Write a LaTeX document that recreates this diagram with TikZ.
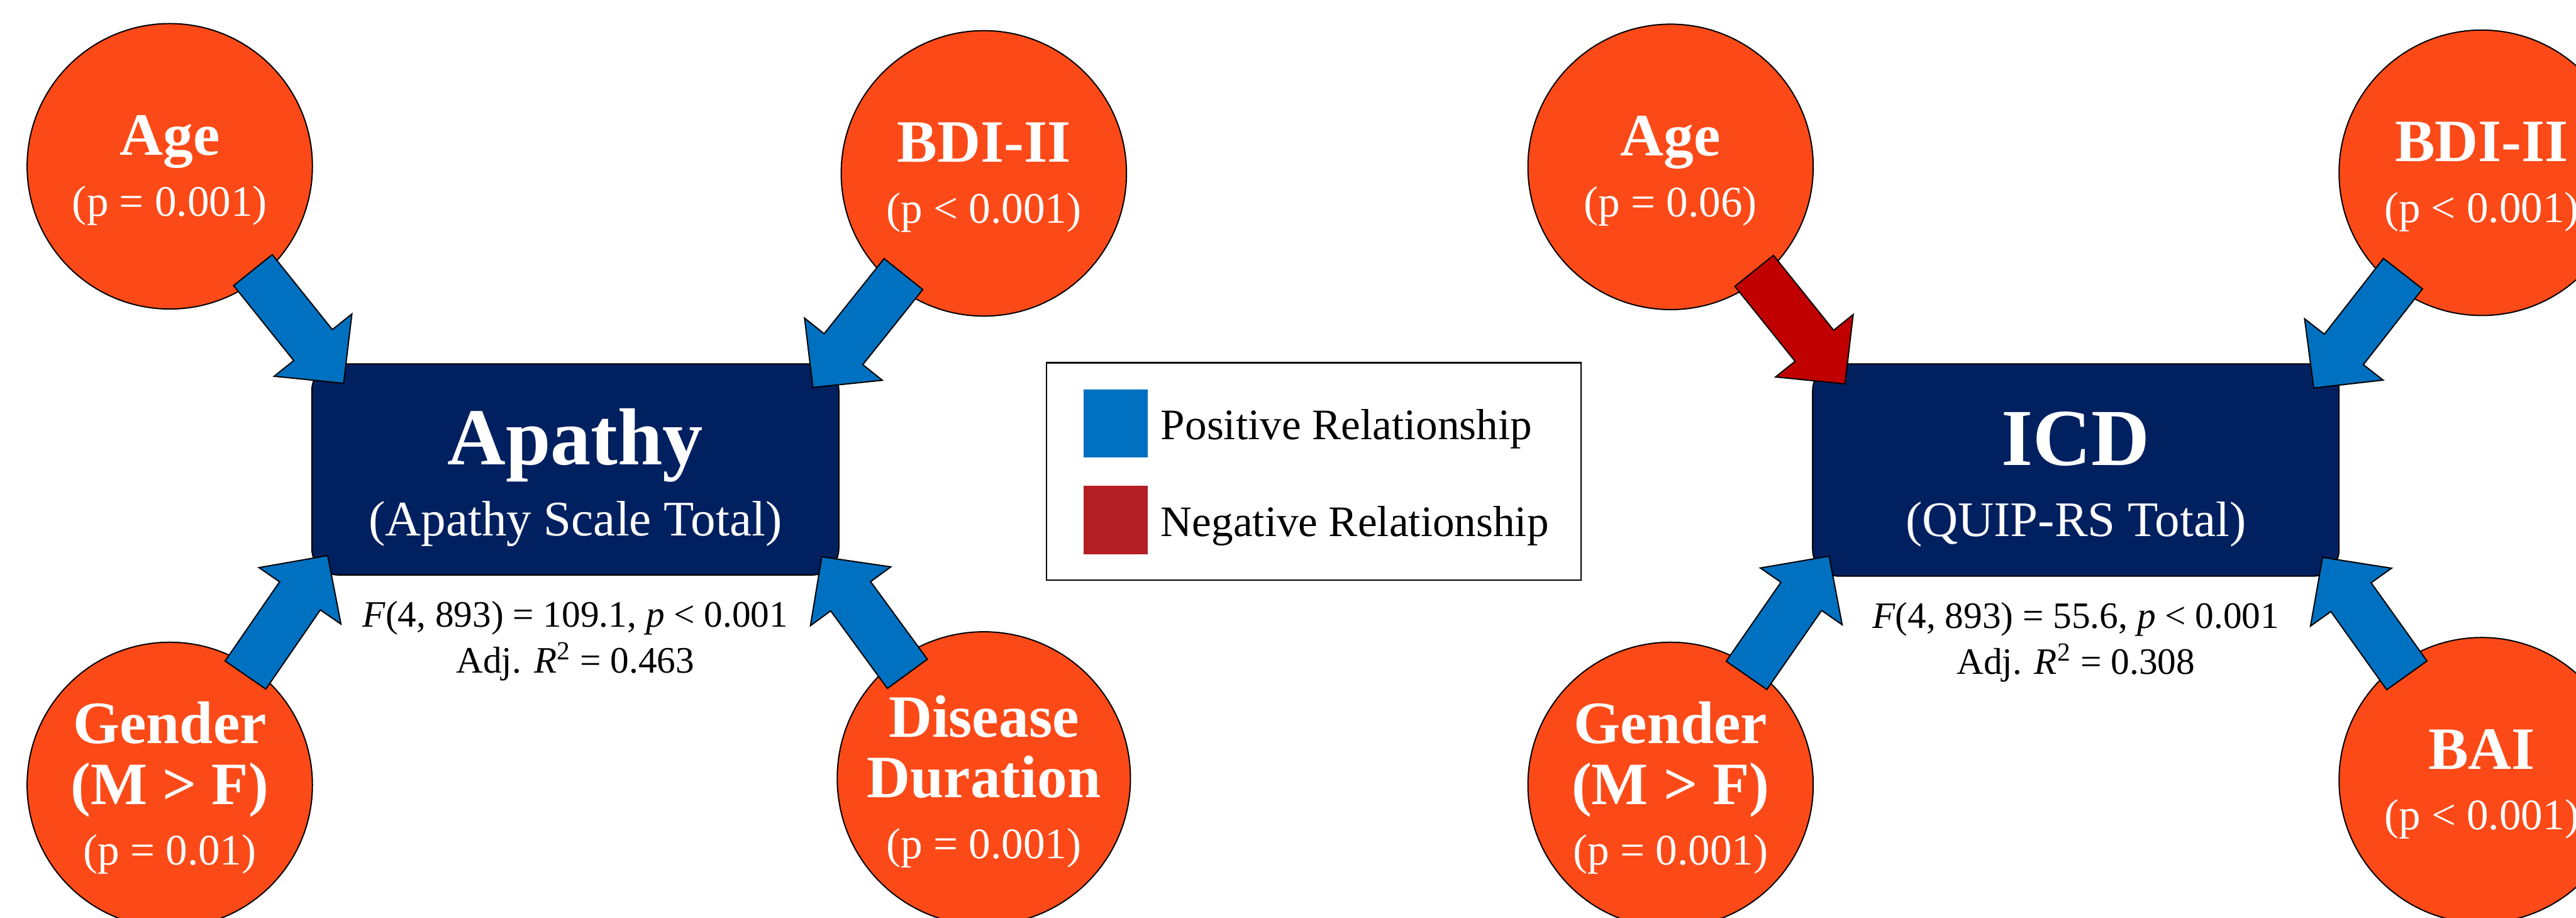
\documentclass[tikz,border=0pt]{standalone}
\usepackage{fontspec}
\setmainfont{Liberation Serif}
\usetikzlibrary{calc,positioning}

\definecolor{predorange}{RGB}{251,74,24}
\definecolor{outnavy}{RGB}{0,32,96}
\definecolor{posblue}{RGB}{0,112,192}
\definecolor{negred}{RGB}{192,0,0}
\definecolor{keyred}{RGB}{178,30,36}

\tikzset{
  predictor/.style={circle, draw=black, line width=0.6pt, fill=predorange, text=white,
    minimum size=4.84cm, inner sep=0pt, align=center, font=\fontsize{21}{29.3}\selectfont},
  outcome/.style={rectangle, rounded corners=0.45cm, draw=black, line width=0.6pt, fill=outnavy,
    text=white, minimum width=8.94cm, minimum height=3.58cm, align=center,
    font=\fontsize{24}{34.4}\selectfont},
  stats/.style={inner sep=0pt, align=center, font=\fontsize{18}{22}\selectfont},
  arrowshape/.style={draw=black, line width=0.6pt, line join=miter},
  legendbox/.style={rectangle, draw=black, line width=0.7pt, minimum width=9.07cm, minimum height=3.69cm},
  keysquare/.style={rectangle, minimum width=1.09cm, minimum height=1.16cm, inner sep=0pt},
  keytext/.style={inner sep=0pt, yshift=-0.1cm, font=\fontsize{21}{25}\selectfont},
}
\newcommand{\ptitle}{\fontsize{29}{29.3}\selectfont\bfseries\rule{0pt}{23pt}}
\newcommand{\otitle}{\fontsize{39}{34.4}\selectfont\bfseries\rule{0pt}{35pt}}
% block arrow: colour, predictor node, tip coordinate
\newcommand{\relarrow}[3]{%
  \coordinate (ra_s) at ($(#3)!2.46cm!(#2)$);
  \coordinate (ra_h) at ($(#3)!0.83cm!(#2)$);
  \draw[arrowshape, fill=#1]
    ($(ra_s)!0.42cm!90:(#3)$) -- ($(ra_h)!0.42cm!90:(#3)$)
    -- ($(ra_h)!0.845cm!90:(#3)$) -- (#3)
    -- ($(ra_h)!0.845cm!-90:(#3)$) -- ($(ra_h)!0.42cm!-90:(#3)$)
    -- ($(ra_s)!0.42cm!-90:(#3)$) -- cycle;
}

\begin{document}
\begin{tikzpicture}
\useasboundingbox (0,0) rectangle (43.70,15.56);
% LEFT MODEL
\node[predictor] (age_a) at (2.88,12.74) {{\ptitle Age}\\(p = 0.001)};
\node[predictor] (bdi_a) at (16.69,12.62) {{\ptitle BDI-II}\\(p < 0.001)};
\node[predictor] (gender_a) at (2.88,2.25) {{\ptitle Gender}\\{\ptitle (M > F)}\\(p = 0.01)};
\node[predictor] (duration_a) at (16.69,2.36) {{\ptitle Disease}\\{\ptitle Duration}\\(p = 0.001)};
\node[outcome] (apathy) at (9.76,7.60) {{\otitle Apathy}\\(Apathy Scale Total)};
\node[stats, below=0.43cm of apathy] (apathy_stats)
  {\textit{F}(4, 893) = 109.1, \textit{p} < 0.001\\Adj. \textit{R}\textsuperscript{2} = 0.463};
\coordinate (apathy_nw) at ($(apathy.north west)+(0.55,-0.34)$);
\coordinate (apathy_ne) at ($(apathy.north east)+(-0.45,-0.41)$);
\coordinate (apathy_sw) at ($(apathy.south west)+(0.28,0.34)$);
\coordinate (apathy_se) at ($(apathy.south east)+(-0.30,0.32)$);
\relarrow{posblue}{age_a}{apathy_nw}
\relarrow{posblue}{bdi_a}{apathy_ne}
\relarrow{posblue}{gender_a}{apathy_sw}
\relarrow{posblue}{duration_a}{apathy_se}

% LEGEND
\node[legendbox] (legend) at (22.285,7.565) {};
\node[keysquare, fill=posblue] (key_pos) at (18.925,8.38) {};
\node[keysquare, fill=keyred] (key_neg) at (18.925,6.74) {};
\node[keytext, right=0.21cm of key_pos] (key_pos_text) {Positive Relationship};
\node[keytext, right=0.21cm of key_neg] (key_neg_text) {Negative Relationship};

% RIGHT MODEL
\node[predictor] (age_b) at (28.34,12.73) {{\ptitle Age}\\(p = 0.06)};
\node[predictor] (bdi_b) at (42.10,12.63) {{\ptitle BDI-II}\\(p < 0.001)};
\node[predictor] (gender_b) at (28.34,2.25) {{\ptitle Gender}\\{\ptitle (M > F)}\\(p = 0.001)};
\node[predictor] (bai_b) at (42.10,2.33) {{\ptitle BAI}\\(p < 0.001)};
\node[outcome, minimum width=8.93cm, minimum height=3.60cm] (icd) at (35.215,7.59)
  {{\otitle ICD}\\(QUIP-RS Total)};
\node[stats, below=0.43cm of icd] (icd_stats)
  {\textit{F}(4, 893) = 55.6, \textit{p} < 0.001\\Adj. \textit{R}\textsuperscript{2} = 0.308};
\coordinate (icd_nw) at ($(icd.north west)+(0.56,-0.35)$);
\coordinate (icd_ne) at ($(icd.north east)+(-0.44,-0.42)$);
\coordinate (icd_sw) at ($(icd.south west)+(0.29,0.35)$);
\coordinate (icd_se) at ($(icd.south east)+(-0.29,0.33)$);
\relarrow{negred}{age_b}{icd_nw}
\relarrow{posblue}{bdi_b}{icd_ne}
\relarrow{posblue}{gender_b}{icd_sw}
\relarrow{posblue}{bai_b}{icd_se}
\end{tikzpicture}
\end{document}
